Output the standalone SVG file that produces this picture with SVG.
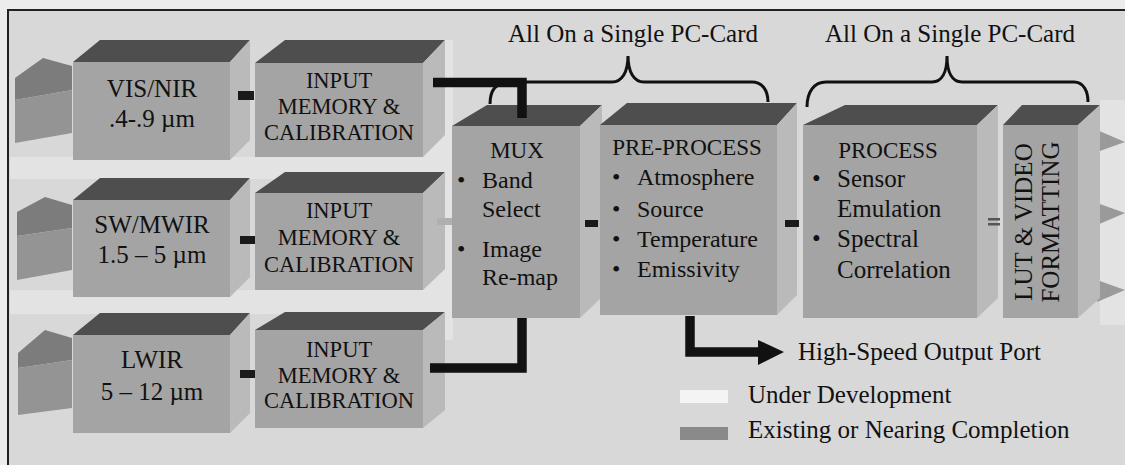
<svg xmlns="http://www.w3.org/2000/svg" width="1125" height="465" viewBox="0 0 1125 465">
<style>
text{font-family:"Liberation Serif","Times New Roman",serif;fill:#111}
.t25{font-size:25px}
.t24{font-size:24px}
.t23{font-size:23px}
.t22{font-size:22.5px}
.m{text-anchor:middle}
.front{fill:#a4a4a4}
.top{fill:#4e4e4e}
.side{fill:#bababa}
.lensf{fill:#949494}
.lenst{fill:#7c7c7c}
.sq{fill:#1a1a1a}
.thick{fill:none;stroke:#111;stroke-width:9.5}
.brace{fill:none;stroke:#111;stroke-width:3}
.outarr{fill:#9a9a9a}
</style>
<rect x="0" y="0" width="1125" height="465" fill="#ececec"/>
<rect x="8" y="10" width="1125" height="470" fill="#d8d8d8" stroke="#222" stroke-width="2"/>
<g id="floor" fill="#e3e3e3">
<rect x="10" y="157" width="440" height="22"/>
<rect x="10" y="290" width="440" height="24"/>
<rect x="423" y="40" width="30" height="300"/>
<rect x="1100" y="100" width="25" height="225"/>
</g>

<g id="vis">
<polygon class="lenst" points="15,78 43,58 72,66 72,90 15,100"/>
<polygon class="lensf" points="15,100 72,90 72,133 15,143"/>
<rect class="front" x="73" y="62" width="157" height="98"/>
<polygon class="top" points="73,62 100,40 250,40 230,62"/>
<polygon class="side" points="230,62 250,40 250,140 230,160"/>
<text class="t25 m" x="152" y="97">VIS/NIR</text>
<text class="t25 m" x="152" y="127">.4-.9 µm</text>
</g>
<g id="swmwir">
<polygon class="lenst" points="17,212 45,197 72,205 72,228 17,236"/>
<polygon class="lensf" points="17,236 72,228 72,270 17,280"/>
<rect class="front" x="73" y="200" width="157" height="97"/>
<polygon class="top" points="73,200 100,178 250,178 230,200"/>
<polygon class="side" points="230,200 250,178 250,277 230,297"/>
<text class="t25 m" x="152" y="233">SW/MWIR</text>
<text class="t25 m" x="152" y="263">1.5 – 5 µm</text>
</g>
<g id="lwir">
<polygon class="lenst" points="18,353 45,330 72,338 72,360 18,368"/>
<polygon class="lensf" points="18,368 72,360 72,408 18,415"/>
<rect class="front" x="73" y="335" width="157" height="98"/>
<polygon class="top" points="73,335 100,313 250,313 230,335"/>
<polygon class="side" points="230,335 250,313 250,413 230,433"/>
<text class="t25 m" x="152" y="368">LWIR</text>
<text class="t25 m" x="152" y="400">5 – 12 µm</text>
</g>

<g id="input1">
<rect class="front" x="255" y="63" width="168" height="94"/>
<polygon class="top" points="255,63 285,40 445,40 423,63"/>
<polygon class="side" points="423,63 445,40 445,135 423,157"/>
<text class="t22 m" x="339" y="88">INPUT</text>
<text class="t22 m" x="339" y="114">MEMORY &amp;</text>
<text class="t22 m" x="339" y="140">CALIBRATION</text>
</g>
<g id="input2">
<rect class="front" x="255" y="193" width="168" height="97"/>
<polygon class="top" points="255,193 285,172 445,172 423,193"/>
<polygon class="side" points="423,193 445,172 445,269 423,290"/>
<text class="t22 m" x="339" y="218">INPUT</text>
<text class="t22 m" x="339" y="245">MEMORY &amp;</text>
<text class="t22 m" x="339" y="272">CALIBRATION</text>
</g>
<g id="input3">
<rect class="front" x="255" y="330" width="168" height="98"/>
<polygon class="top" points="255,330 285,312 445,312 423,330"/>
<polygon class="side" points="423,330 445,312 445,410 423,428"/>
<text class="t22 m" x="339" y="357">INPUT</text>
<text class="t22 m" x="339" y="383">MEMORY &amp;</text>
<text class="t22 m" x="339" y="408">CALIBRATION</text>
</g>

<g id="mux">
<rect class="front" x="452" y="126" width="128" height="192"/>
<polygon class="top" points="452,126 487,105 602,105 580,126"/>
<polygon class="side" points="580,126 602,105 602,297 580,318"/>
<text class="t23 m" x="517" y="158">MUX</text>
<text class="t24" x="457" y="188">•<tspan x="482">Band</tspan></text>
<text class="t24" x="482" y="217">Select</text>
<text class="t24" x="457" y="257">•<tspan x="482">Image</tspan></text>
<text class="t24" x="482" y="285">Re-map</text>
</g>
<g id="preprocess">
<rect class="front" x="600" y="125" width="177" height="190"/>
<polygon class="top" points="600,125 627,103 797,103 777,125"/>
<polygon class="side" points="777,125 797,103 797,295 777,315"/>
<text class="t23 m" x="687" y="155">PRE-PROCESS</text>
<text class="t24" x="612" y="185">•<tspan x="637">Atmosphere</tspan></text>
<text class="t24" x="612" y="217">•<tspan x="637">Source</tspan></text>
<text class="t24" x="612" y="247">•<tspan x="637">Temperature</tspan></text>
<text class="t24" x="612" y="277">•<tspan x="637">Emissivity</tspan></text>
</g>
<g id="process">
<rect class="front" x="803" y="125" width="174" height="193"/>
<polygon class="top" points="803,125 845,105 998,105 977,125"/>
<polygon class="side" points="977,125 998,105 998,298 977,318"/>
<text class="t23 m" x="888" y="158">PROCESS</text>
<text class="t25" x="812" y="187">•<tspan x="837">Sensor</tspan></text>
<text class="t25" x="837" y="217">Emulation</text>
<text class="t25" x="812" y="247">•<tspan x="837">Spectral</tspan></text>
<text class="t25" x="837" y="278">Correlation</text>
</g>
<g id="lut">
<polygon class="outarr" points="1097,130 1125,142 1097,152"/>
<polygon class="outarr" points="1097,203 1125,213 1097,225"/>
<polygon class="outarr" points="1097,280 1125,290 1097,302"/>
<rect class="front" x="1003" y="125" width="75" height="193"/>
<polygon class="top" points="1003,125 1022,105 1100,105 1078,125"/>
<polygon class="side" points="1078,125 1100,105 1100,298 1078,318"/>
<text class="t25 m" transform="translate(1032,222) rotate(-90)">LUT &amp; VIDEO</text>
<text class="t25 m" transform="translate(1059,222) rotate(-90)">FORMATTING</text>
</g>

<g id="connectors">
<rect class="sq" x="238" y="91" width="16" height="9"/>
<rect class="sq" x="240" y="236" width="15" height="8"/>
<rect class="sq" x="240" y="370" width="15" height="8"/>
<rect fill="#b0b0b0" x="437" y="218" width="15" height="7"/>
<rect class="sq" x="585" y="220" width="13" height="7"/>
<rect class="sq" x="785" y="220" width="14" height="7"/>
<rect fill="#555" x="988" y="218" width="12" height="2.5"/>
<rect fill="#555" x="988" y="223" width="12" height="2.5"/>
<path class="brace" d="M490,104 C490,90 496,82 510,82 L612,82 C622,82 628,72 628,56 C628,72 634,82 644,82 L752,82 C762,82 768,90 768,102"/>
<path class="brace" d="M807,107 C807,92 814,82 826,82 L932,82 C942,82 947,72 947,56 C947,72 952,82 962,82 L1074,82 C1084,82 1088,92 1088,102"/>
<path class="thick" d="M433,82.5 H522 V118"/>
<path class="thick" d="M430,368 H522 V318"/>
<path class="thick" d="M690,316 V352 H762"/>
<polygon fill="#111" points="758,340 784,352 758,365"/>
</g>

<g id="labels">
<text class="t25 m" x="633" y="42">All On a Single PC-Card</text>
<text class="t25 m" x="950" y="42">All On a Single PC-Card</text>
<text class="t25" x="798" y="360">High-Speed Output Port</text>
</g>
<g id="legend">
<rect x="680" y="390" width="48" height="13" fill="#f4f4f4"/>
<rect x="680" y="427" width="48" height="13" fill="#8a8a8a"/>
<text class="t25" x="748" y="403">Under Development</text>
<text class="t25" x="748" y="438">Existing or Nearing Completion</text>
</g>
</svg>
